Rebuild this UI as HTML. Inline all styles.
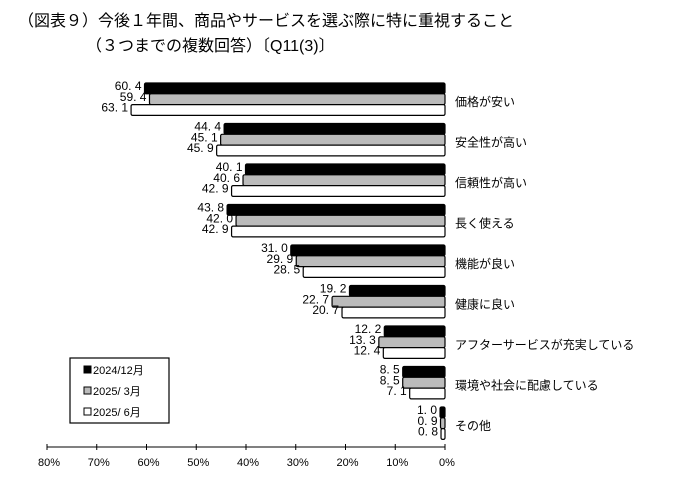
<!DOCTYPE html>
<html><head><meta charset="utf-8"><style>
body{margin:0;background:#fff;}
svg text{font-family:"Liberation Sans","Noto Sans CJK JP",sans-serif;}
</style></head><body>
<svg width="700" height="483" xmlns="http://www.w3.org/2000/svg">
<text x="18" y="26" font-size="16" fill="#000">（図表９）今後１年間、商品やサービスを選ぶ際に特に重視すること</text>
<text x="86" y="51" font-size="16" fill="#000">（３つまでの複数回答）〔Q11(3)〕</text>
<g id="bars"></g>
<g id="axis"></g>
<g>
<rect x="70" y="358" width="99" height="65" fill="#fff" stroke="#000" stroke-width="1.2"/>
<rect x="84" y="366" width="7" height="7" fill="#000" stroke="#000"/>
<text x="93" y="374" font-size="11">2024/12月</text>
<rect x="84" y="387" width="7" height="7" fill="#bbb" stroke="#000"/>
<text x="93" y="395" font-size="11">2025/ 3月</text>
<rect x="84" y="408" width="7" height="7" fill="#fff" stroke="#000"/>
<text x="93" y="416" font-size="11">2025/ 6月</text>
</g>
</svg>
<script>
const categories=["価格が安い","安全性が高い","信頼性が高い","長く使える","機能が良い","健康に良い","アフターサービスが充実している","環境や社会に配慮している","その他"];
const s2024_12=[60.4,44.4,40.1,43.8,31.0,19.2,12.2,8.5,1.0];
const s2025_03=[59.4,45.1,40.6,42.0,29.9,22.7,13.3,8.5,0.9];
const s2025_06=[63.1,45.9,42.9,42.9,28.5,20.7,12.4,7.1,0.8];
const ticks=[80,70,60,50,40,30,20,10,0];
const NS="http://www.w3.org/2000/svg";
const x0=445,pxPer=(445-47)/80;
const xs=v=>x0-v*pxPer;
const groupY=i=>83+i*40.5;
const barH=10.8;
const bars=document.getElementById('bars');
const series=[[s2024_12,"#000"],[s2025_03,"#bbb"],[s2025_06,"#fff"]];
categories.forEach((c,i)=>{
  const gy=groupY(i);
  series.forEach(([arr,fill],k)=>{
    const v=arr[i];const y=gy+k*barH;
    const r=document.createElementNS(NS,'rect');
    r.setAttribute('x',xs(v));r.setAttribute('y',y);
    r.setAttribute('width',Math.max(v*pxPer,1));r.setAttribute('height',barH);
    r.setAttribute('fill',fill);r.setAttribute('stroke','#000');r.setAttribute('stroke-width','1.2');r.setAttribute('rx','1.5');
    
    
    bars.appendChild(r);
    const t=document.createElementNS(NS,'text');
    t.setAttribute('x',xs(v)-3);t.setAttribute('y',y+7);
    t.setAttribute('font-size','12');t.setAttribute('text-anchor','end');
    t.textContent=v.toFixed(1).replace('.','. ');
    
    
    bars.appendChild(t);
  });
  const l=document.createElementNS(NS,'text');
  l.setAttribute('x',455);l.setAttribute('y',gy+barH*1.5+7);
  l.setAttribute('font-size','12');l.textContent=c;
  
  
  bars.appendChild(l);
});
const ax=document.getElementById('axis');
const line=document.createElementNS(NS,'line');
line.setAttribute('x1',xs(80));line.setAttribute('x2',xs(0));line.setAttribute('y1',447);line.setAttribute('y2',447);
line.setAttribute('stroke','#000');


ax.appendChild(line);
ticks.forEach(v=>{
  const tk=document.createElementNS(NS,'line');
  tk.setAttribute('x1',xs(v));tk.setAttribute('x2',xs(v));tk.setAttribute('y1',444);tk.setAttribute('y2',450);tk.setAttribute('stroke','#000');
  
  
  ax.appendChild(tk);
  const t=document.createElementNS(NS,'text');
  t.setAttribute('x',xs(v)+2);t.setAttribute('y',466);t.setAttribute('font-size','11');t.setAttribute('text-anchor','middle');
  t.textContent=v+'%';
  
  
  ax.appendChild(t);
});
</script>
</body></html>
